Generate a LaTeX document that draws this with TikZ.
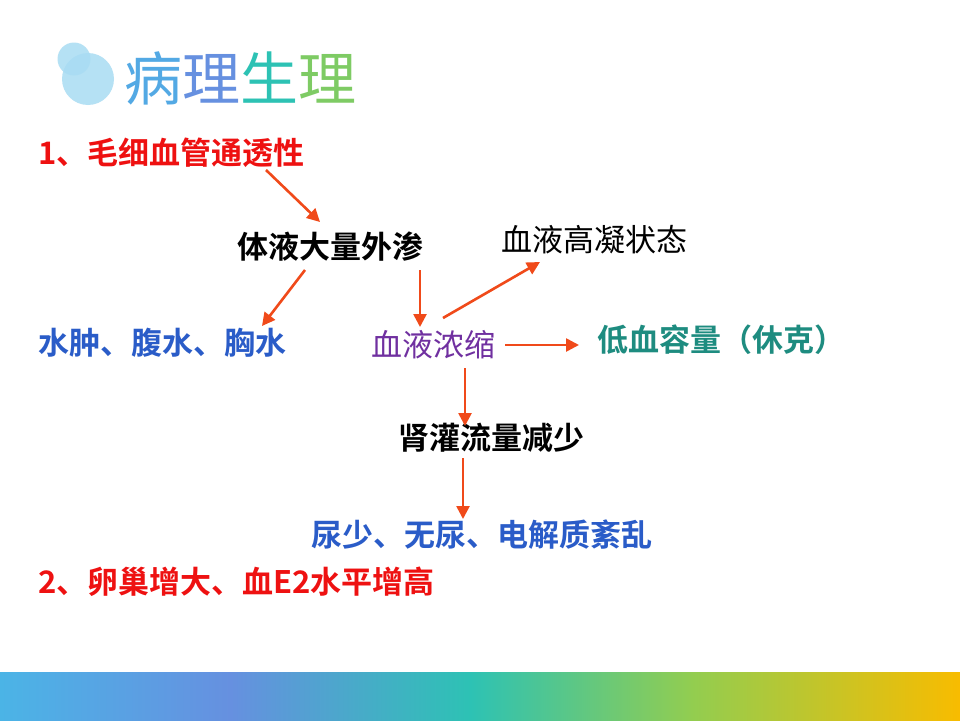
\documentclass[tikz,border=0pt]{standalone}
\usepackage{fontspec}
\newfontfamily\cjk{Noto Sans CJK SC}
\newfontfamily\cjkb{Noto Sans CJK SC Bold}
\usetikzlibrary{arrows.meta}
\definecolor{ar}{HTML}{F04A1A}
\definecolor{rd}{HTML}{EE1111}
\definecolor{bl}{HTML}{2A5CC8}
\definecolor{tl}{HTML}{1E8C80}
\definecolor{pu}{HTML}{7030A0}
\definecolor{g1}{HTML}{4BB4E6}
\definecolor{g2}{HTML}{6690E0}
\definecolor{g3}{HTML}{2DC2B4}
\definecolor{g4}{HTML}{92CD50}
\definecolor{g5}{HTML}{F8BC00}
\definecolor{c1}{HTML}{A9DCF3}
\begin{document}
\begin{tikzpicture}[x=1pt,y=-1pt,
  t/.style={inner sep=0pt,font=\cjkb\fontsize{31}{31}\selectfont},
  tr/.style={inner sep=0pt,font=\cjk\fontsize{31}{31}\selectfont},
  arr/.style={draw=ar,line width=2.6pt,-{Triangle[length=13pt,width=13pt]}}]
\useasboundingbox (0,0) rectangle (960,720);
\fill[white] (0,0) rectangle (960,720);
% bottom bar
\shade[left color=g1,right color=g2] (0,672) rectangle (231,720);
\shade[left color=g2,right color=g3] (230,672) rectangle (471,720);
\shade[left color=g3,right color=g4] (470,672) rectangle (692,720);
\shade[left color=g4,right color=g5] (691,672) rectangle (960,720);
% title icon
\fill[c1,fill opacity=0.85] (88,79) circle (26);
\fill[c1,fill opacity=0.85] (74,59) circle (16.5);
\node[inner sep=0pt,anchor=west,font=\cjk\fontsize{58}{58}\selectfont] (title) at (124,78)
 {\textcolor{g1!70!g2}{病}\textcolor{g2}{理}\textcolor{g3}{生}\textcolor{g4!80!g3}{理}};
\node[t,rd,anchor=west] (n1) at (38,153) {1、毛细血管通透性};
\node[t] (n2) at (330,247) {体液大量外渗};
\node[tr] (n3) at (594,240) {血液高凝状态};
\node[t,bl,anchor=west] (n4) at (38,343) {水肿、腹水、胸水};
\node[tr,pu] (n5) at (433,345) {血液浓缩};
\node[t,tl,anchor=west] (n6) at (597,340) {低血容量（休克）};
\node[t] (n7) at (491,438) {肾灌流量减少};
\node[t,bl] (n8) at (482,535) {尿少、无尿、电解质紊乱};
\node[t,rd,anchor=west] (n9) at (38,582) {2、卵巢增大、血E2水平增高};
\coordinate (a1) at (266,170); \coordinate (b1) at (320,222);
\coordinate (a2) at (305,270); \coordinate (b2) at (262,326);
\coordinate (a3) at (420,270); \coordinate (b3) at (420,327);
\coordinate (a4) at (443,318); \coordinate (b4) at (540,262);
\coordinate (a5) at (505,345); \coordinate (b5) at (579,345);
\coordinate (a6) at (465,368); \coordinate (b6) at (465,426);
\coordinate (a7) at (463,458); \coordinate (b7) at (463,519);
\foreach \i in {1,...,7} \draw[arr] (a\i) -- (b\i);
\end{tikzpicture}
\end{document}
